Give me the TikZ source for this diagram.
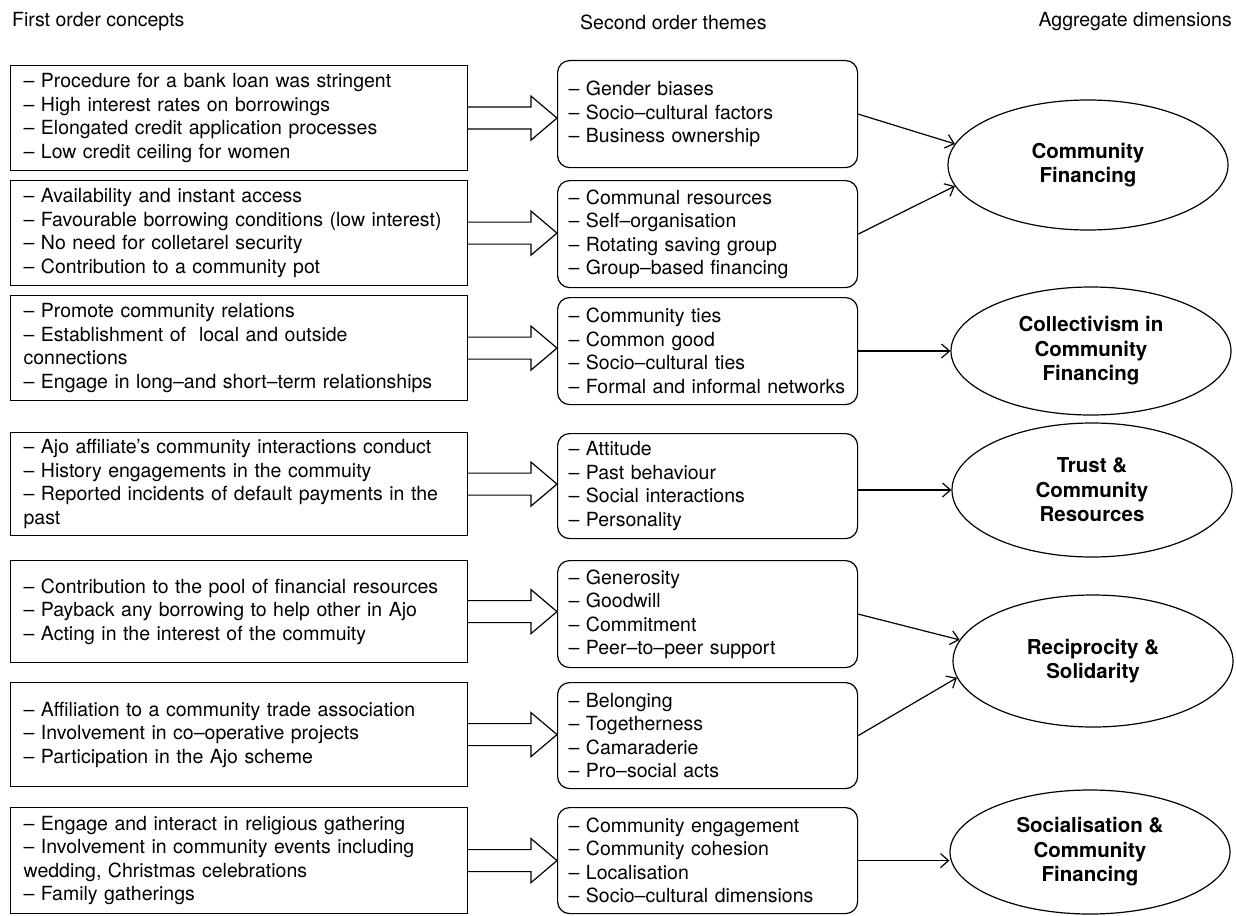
\documentclass[tikz,border=0pt]{standalone}
\usepackage{fontspec}
\setmainfont{TeX Gyre Heros}
\usetikzlibrary{shapes.geometric,arrows.meta,calc}
\newcommand{\dblarrow}[2]{%
  \draw[line width=1.2pt, fill=white, line join=miter]
    ($(#1.east)+(0,-11)$) -- ($(#2.west |- #1.east)+(-26,-11)$)
    -- ($(#2.west |- #1.east)+(-26,-22)$) -- (#2.west |- #1.east)
    -- ($(#2.west |- #1.east)+(-26,22)$) -- ($(#2.west |- #1.east)+(-26,11)$)
    -- ($(#1.east)+(0,11)$);}
\begin{document}
\begin{tikzpicture}[x=1pt,y=-1pt,
  txt/.style={font=\fontsize{19.5}{23.5}\selectfont},
  hdr/.style={txt, inner sep=0pt},
  lbox/.style={txt, draw, line width=1.2pt, rectangle, text width=431pt,
    inner xsep=13pt, inner ysep=0pt, align=left, anchor=north west},
  mbox/.style={txt, draw, line width=1.2pt, rounded corners=12pt, text width=278pt,
    inner xsep=11pt, inner ysep=0pt, align=left, anchor=north west},
  ell/.style={draw, line width=1.2pt, ellipse, minimum width=280pt, inner sep=0pt,
    align=center, font=\fontsize{20.5}{24.5}\selectfont\bfseries},
  conn/.style={line width=1.2pt, -{Straight Barb[length=8pt,width=14pt,line width=1.2pt]}}
]
\useasboundingbox (0,0) rectangle (1236,915);

% headers
\node[hdr, anchor=west] (h1) at (12,22) {First order concepts};
\node[hdr, anchor=west] (h2) at (580,22) {Second order themes};
\node[hdr, anchor=east] (h3) at (1232,22) {Aggregate dimensions};

% first order concepts
\node[lbox, minimum height=105pt] (b1) at (10,65) {– Procedure for a bank loan was stringent\\– High interest rates on borrowings\\– Elongated credit application processes\\– Low credit ceiling for women};
\node[lbox, minimum height=105pt] (b2) at (10,180) {– Availability and instant access\\– Favourable borrowing conditions (low interest)\\– No need for colletarel security\\– Contribution to a community pot};
\node[lbox, minimum height=105pt] (b3) at (10,295) {– Promote community relations\\– Establishment of~~local and outside\\connections\\– Engage in long–and short–term relationships};
\node[lbox, minimum height=103pt] (b4) at (10,432) {– Ajo affiliate’s community interactions conduct\\– History engagements in the commuity\\– Reported incidents of default payments in the\\past};
\node[lbox, minimum height=102pt] (b5) at (10,560) {– Contribution to the pool of financial resources\\– Payback any borrowing to help other in Ajo\\– Acting in the interest of the commuity};
\node[lbox, minimum height=104pt] (b6) at (10,682) {– Affiliation to a community trade association\\– Involvement in co–operative projects\\– Participation in the Ajo scheme};
\node[lbox, minimum height=106pt] (b7) at (10,807) {– Engage and interact in religious gathering\\– Involvement in community events including\\wedding, Christmas celebrations\\– Family gatherings};

% second order themes
\node[mbox, minimum height=107pt] (m1) at (557,60) {– Gender biases\\– Socio–cultural factors\\– Business ownership};
\node[mbox, minimum height=107pt] (m2) at (557,180) {– Communal resources\\– Self–organisation\\– Rotating saving group\\– Group–based financing};
\node[mbox, minimum height=107pt] (m3) at (557,297) {– Community ties\\– Common good\\– Socio–cultural ties\\– Formal and informal networks};
\node[mbox, minimum height=105pt] (m4) at (557,433) {– Attitude\\– Past behaviour\\– Social interactions\\– Personality};
\node[mbox, minimum height=107pt] (m5) at (557,560) {– Generosity\\– Goodwill\\– Commitment\\– Peer–to–peer support};
\node[mbox, minimum height=106pt] (m6) at (557,682) {– Belonging\\– Togetherness\\– Camaraderie\\– Pro–social acts};
\node[mbox, minimum height=106pt] (m7) at (557,807) {– Community engagement\\– Community cohesion\\– Localisation\\– Socio–cultural dimensions};

% aggregate dimensions
\node[ell, minimum height=130pt] (e1) at (1088,165) {Community\\Financing};
\node[ell, minimum height=128pt] (e2) at (1091,351) {Collectivism in\\Community\\Financing};
\node[ell, minimum height=134pt] (e3) at (1092,490) {Trust \&\\Community\\Resources};
\node[ell, minimum height=132pt] (e4) at (1093,661) {Reciprocity \&\\Solidarity};
\node[ell, minimum height=124pt] (e5) at (1090,852) {Socialisation \&\\Community\\Financing};

% double arrows
\dblarrow{b1}{m1}
\dblarrow{b2}{m2}
\dblarrow{b3}{m3}
\dblarrow{b4}{m4}
\dblarrow{b5}{m5}
\dblarrow{b6}{m6}
\dblarrow{b7}{m7}

% single arrows
\draw[conn] (m1.east) -- (e1.171);
\draw[conn] (m2.east) -- (e1.189);
\draw[conn] (m3.east |- e2.west) -- (e2.west);
\draw[conn] (m4.east |- e3.west) -- (e3.west);
\draw[conn] (m5.east) -- (e4.171);
\draw[conn] (m6.east) -- (e4.187);
\draw[conn] (m7.east) -- (m7.east -| e5.west);
\end{tikzpicture}
\end{document}
